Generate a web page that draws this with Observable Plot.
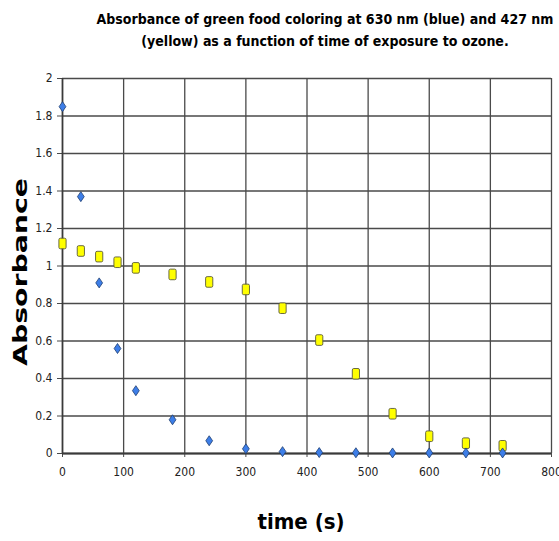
<!DOCTYPE html>
<html>
<head>
<meta charset="utf-8">
<script src="https://cdn.jsdelivr.net/npm/d3@7"></script>
<script src="https://cdn.jsdelivr.net/npm/@observablehq/plot@0.6"></script>
<style>
  html, body { margin: 0; padding: 0; background: #fff; }
</style>
</head>
<body>
<div id="chart"></div>
<script>
// ---- data ----
const times = [0, 30, 60, 90, 120, 180, 240, 300, 360, 420, 480, 540, 600, 660, 720];
const blue630 = [1.85, 1.37, 0.91, 0.56, 0.335, 0.18, 0.068, 0.025, 0.01, 0.005, 0.004, 0.003, 0.003, 0.003, 0.003];
const yellow427 = [1.12, 1.08, 1.05, 1.02, 0.99, 0.955, 0.915, 0.875, 0.775, 0.605, 0.425, 0.212, 0.092, 0.055, 0.041];
const xTicks = [0, 100, 200, 300, 400, 500, 600, 700, 800];
const yTicks = [0, 0.2, 0.4, 0.6, 0.8, 1, 1.2, 1.4, 1.6, 1.8, 2];
const yTickLabels = ["0", "0.2", "0.4", "0.6", "0.8", "1", "1.2", "1.4", "1.6", "1.8", "2"];
const titleLines = ["Absorbance of green food coloring at 630 nm (blue) and 427 nm", "(yellow) as a function of time of exposure to ozone."];
const xLabel = "time (s)";
const yLabel = "Absorbance";

const blueData = times.map((t, i) => ({t, a: blue630[i]}));
const yellowData = times.map((t, i) => ({t, a: yellow427[i]}));

// custom marker shapes
const diamond = {
  draw(ctx) {
    ctx.moveTo(0, -5); ctx.lineTo(3.4, 0); ctx.lineTo(0, 5); ctx.lineTo(-3.4, 0); ctx.closePath();
  }
};
const box = {
  draw(ctx) {
    const w = 3.6, h = 5.3, r = 1.5;
    ctx.moveTo(-w + r, -h);
    ctx.arcTo(w, -h, w, h, r);
    ctx.arcTo(w, h, -w, h, r);
    ctx.arcTo(-w, h, -w, -h, r);
    ctx.arcTo(-w, -h, w, -h, r);
    ctx.closePath();
  }
};

const gridColor = "#4a4a4a";
const tickFont = "DejaVu Sans Condensed, sans-serif";

const chart = Plot.plot({
  width: 559,
  height: 541,
  marginLeft: 62,
  marginRight: 8,
  marginTop: 78,
  marginBottom: 88,
  style: {fontFamily: tickFont, fontSize: "12px", color: "#222", background: "#fff"},
  x: {domain: [0, 800], ticks: xTicks},
  y: {domain: [0, 2], ticks: yTicks},
  marks: [
    Plot.gridX(xTicks, {stroke: gridColor, strokeOpacity: 1, strokeWidth: 1.3}),
    Plot.gridY(yTicks, {stroke: gridColor, strokeOpacity: 1, strokeWidth: 1.3}),
    Plot.axisX({ticks: xTicks, tickSize: 4, tickPadding: 10, stroke: gridColor, label: null, fontSize: 12}),
    Plot.axisY({ticks: yTicks, tickSize: 5, tickPadding: 5, tickFormat: (d, i) => yTickLabels[i], stroke: gridColor, label: null, fontSize: 12}),
    Plot.ruleY([0], {stroke: "#3a3a3a", strokeWidth: 2.2}),
    Plot.ruleX([0], {stroke: "#3a3a3a", strokeWidth: 1.6}),
    Plot.dot(yellowData, {x: "t", y: "a", symbol: box, r: 4, fill: "#ffff00", stroke: "#5a5a3a", strokeWidth: 0.9}),
    Plot.dot(blueData, {x: "t", y: "a", symbol: diamond, r: 4, fill: "#3d7ee8", stroke: "#1e3d70", strokeWidth: 0.8}),
    Plot.text([titleLines.join("\n")], {frameAnchor: "top", dx: 18, dy: -70, lineHeight: 1.58, textAnchor: "middle", lineAnchor: "top", fontSize: 14, fontWeight: "bold", fontFamily: "DejaVu Sans Condensed, sans-serif", fill: "#000"}),
    Plot.text([yLabel], {frameAnchor: "left", dx: -42, dy: 100, rotate: -90, textAnchor: "start", fontSize: 20, fontWeight: "bold", fontFamily: "DejaVu Sans, sans-serif", fill: "#000", className: "ylab"}),
    Plot.text([xLabel], {frameAnchor: "bottom", dx: -6, dy: 75, fontSize: 22, fontWeight: "bold", fontFamily: "DejaVu Sans Condensed, sans-serif", fill: "#000"})
  ]
});

document.getElementById("chart").append(chart);
// stretch the y label to the reference's wide lettering
d3.select(chart).selectAll(".ylab text").attr("textLength", 188).attr("lengthAdjust", "spacingAndGlyphs");
</script>
</body>
</html>
